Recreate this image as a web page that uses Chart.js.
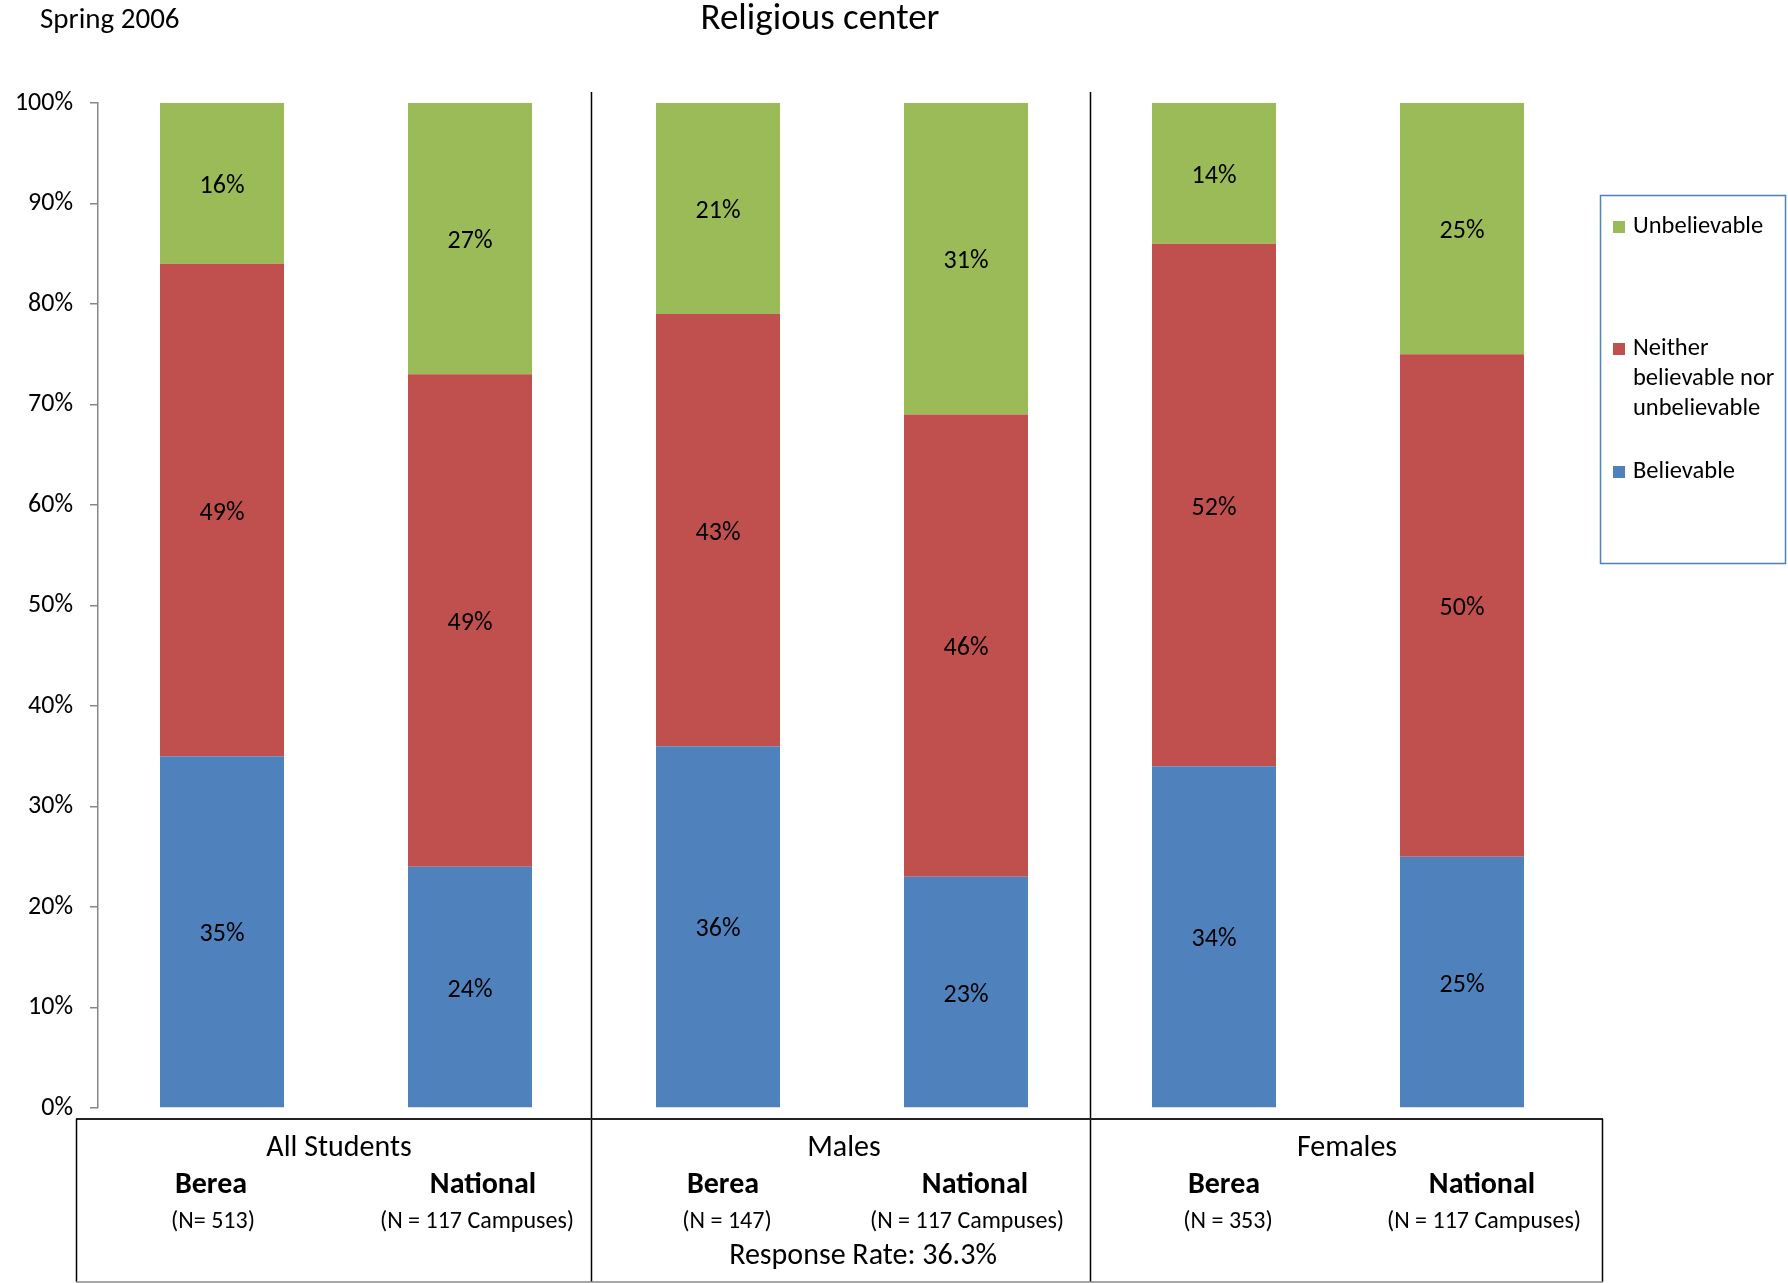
<!DOCTYPE html>
<html><head><meta charset="utf-8">
<script src="https://cdn.jsdelivr.net/npm/chart.js@4/dist/chart.umd.min.js"></script>
<style>html,body{margin:0;padding:0;background:#fff;} #wrap{width:1788px;height:1283px;position:relative;}</style>
</head><body><div id="wrap"><canvas id="c" width="1788" height="1283"></canvas></div>
<script>
const categories = ['All Students Berea','All Students National','Males Berea','Males National','Females Berea','Females National'];
const groupNames = ['All Students','Males','Females'];
const barNames = ['Berea','National','Berea','National','Berea','National'];
const sampleSizes = ['(N= 513)','(N = 117 Campuses)','(N = 147)','(N = 117 Campuses)','(N = 353)','(N = 117 Campuses)'];
const seriesNames = ['Believable','Neither believable nor unbelievable','Unbelievable'];
const legendLines = [['Unbelievable'],['Neither','believable nor','unbelievable'],['Believable']];
const believable = [35,24,36,23,34,25];
const neither = [49,49,43,46,52,50];
const unbelievable = [16,27,21,31,14,25];
const yTickValues = [0,10,20,30,40,50,60,70,80,90,100];
const titleText = 'Religious center';
const subtitleText = 'Spring 2006';
const responseRate = 'Response Rate: 36.3%';

const FONT = 'Carlito, Calibri, Lato, "Open Sans", sans-serif';
Chart.defaults.font.family = FONT;
Chart.defaults.color = '#000';

const colors = ['#4F81BD','#C0504D','#9BBB59'];

// table text layout (pixel x of each text block)
const groupX = [339, 844, 1347];
const barNameX = [211, 483, 723, 975, 1224, 1482];
const sampleX = [213, 477, 727, 967, 1228, 1484];

const labelPlugin = {
  id: 'segLabels',
  afterDatasetsDraw(chart) {
    const ctx = chart.ctx;
    ctx.save();
    ctx.font = '26px ' + FONT;
    ctx.fillStyle = '#000';
    ctx.textAlign = 'center';
    ctx.textBaseline = 'middle';
    chart.data.datasets.forEach((ds, di) => {
      const meta = chart.getDatasetMeta(di);
      meta.data.forEach((el, i) => {
        const v = ds.data[i];
        ctx.fillText(v + '%', el.x, (el.y + el.base) / 2 + 3);
      });
    });
    ctx.restore();
  }
};

const decorPlugin = {
  id: 'decor',
  afterDraw(chart) {
    const ctx = chart.ctx;
    const xs = chart.scales.x;
    ctx.save();
    // titles
    ctx.fillStyle = '#000';
    ctx.textBaseline = 'middle';
    ctx.textAlign = 'center';
    ctx.font = '37px ' + FONT;
    ctx.fillText(titleText, 820, 20);
    ctx.textAlign = 'left';
    ctx.font = '29px ' + FONT;
    ctx.fillText(subtitleText, 40, 21);

    // dividers
    ctx.strokeStyle = '#000';
    ctx.lineWidth = 1.5;
    [[1.5, -3], [3.5, 0]].forEach(([v, d]) => {
      const x = Math.round(xs.getPixelForValue(v)) + d + 0.5;
      ctx.beginPath(); ctx.moveTo(x, 92); ctx.lineTo(x, 1282); ctx.stroke();
    });
    // table box
    ctx.lineWidth = 2;
    ctx.strokeStyle = '#222';
    ctx.beginPath(); ctx.moveTo(76, 1119); ctx.lineTo(1603, 1119); ctx.stroke();
    ctx.lineWidth = 1.5;
    ctx.strokeStyle = '#000';
    ctx.beginPath(); ctx.moveTo(76.5, 1119); ctx.lineTo(76.5, 1282); ctx.stroke();
    ctx.beginPath(); ctx.moveTo(1602.5, 1119); ctx.lineTo(1602.5, 1282); ctx.stroke();
    ctx.strokeStyle = '#888';
    ctx.beginPath(); ctx.moveTo(76, 1282); ctx.lineTo(1603, 1282); ctx.stroke();

    // table text
    ctx.textAlign = 'center';
    ctx.fillStyle = '#000';
    ctx.font = '30px ' + FONT;
    groupNames.forEach((g, gi) => ctx.fillText(g, groupX[gi], 1148));
    ctx.font = 'bold 30px ' + FONT;
    barNames.forEach((b, i) => ctx.fillText(b, barNameX[i], 1185));
    ctx.font = '24px ' + FONT;
    sampleSizes.forEach((s, i) => ctx.fillText(s, sampleX[i], 1222));
    ctx.font = '30px ' + FONT;
    ctx.fillText(responseRate, 863, 1256);

    // legend
    ctx.strokeStyle = '#4F81BD';
    ctx.lineWidth = 1.5;
    ctx.strokeRect(1600.5, 195.5, 185, 368);
    const legendOrder = [2, 1, 0];
    const startYs = [227, 349, 472];
    ctx.font = '24.5px ' + FONT;
    ctx.textAlign = 'left';
    legendOrder.forEach((di, k) => {
      const ds = chart.data.datasets[di];
      ctx.fillStyle = ds.backgroundColor;
      ctx.fillRect(1613, startYs[k] - 6, 12, 12);
      ctx.fillStyle = '#000';
      legendLines[k].forEach((line, li) => {
        ctx.fillText(line, 1633, startYs[k] + li * 30);
      });
    });
    ctx.restore();
  }
};

new Chart(document.getElementById('c'), {
  type: 'bar',
  data: {
    labels: categories,
    datasets: [
      { label: seriesNames[0], data: believable, backgroundColor: colors[0] },
      { label: seriesNames[1], data: neither, backgroundColor: colors[1] },
      { label: seriesNames[2], data: unbelievable, backgroundColor: colors[2] }
    ]
  },
  options: {
    responsive: false,
    animation: false,
    devicePixelRatio: 1,
    layout: { padding: { left: 0, top: 103, right: 202, bottom: 175 } },
    datasets: { bar: { barPercentage: 0.5, categoryPercentage: 1.0, borderWidth: 0 } },
    plugins: { legend: { display: false }, tooltip: { enabled: false }, title: { display: false } },
    scales: {
      x: { stacked: true, display: false, offset: true },
      y: {
        stacked: true, min: 0, max: 100,
        afterFit(s) { s.width = 98; },
        afterBuildTicks(s) { s.ticks = yTickValues.map(v => ({ value: v })); },
        ticks: { padding: 17, color: '#000', font: { size: 26 }, callback: v => v + '%' },
        grid: { drawOnChartArea: false, tickLength: 8, color: '#868686', lineWidth: 1.5 },
        border: { color: '#868686', width: 1.5 }
      }
    }
  },
  plugins: [labelPlugin, decorPlugin]
});
</script></body></html>
